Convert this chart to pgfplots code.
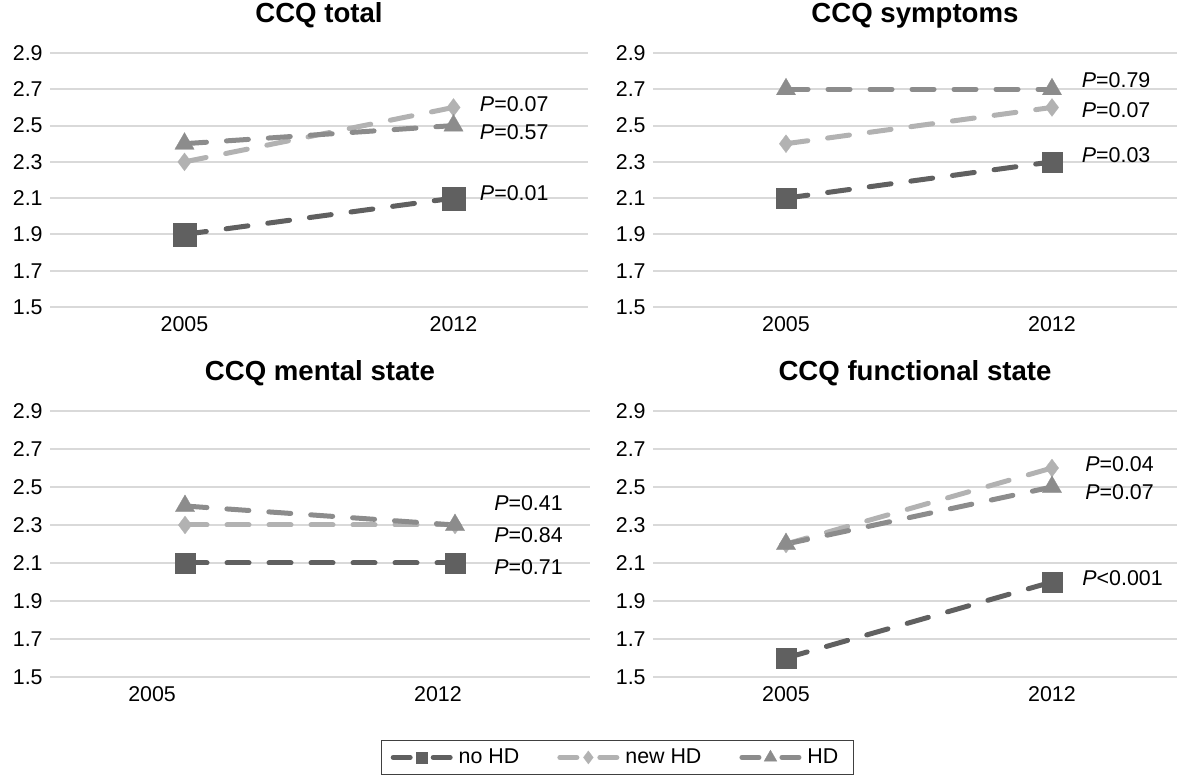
\documentclass[border=0pt]{standalone}
\usepackage{fontspec}
\setmainfont{Liberation Sans}
\usepackage{pgfplots}
\pgfplotsset{compat=1.18}
\definecolor{cnohd}{HTML}{606060}
\definecolor{cnew}{HTML}{B2B2B2}
\definecolor{chd}{HTML}{8C8C8C}
\definecolor{cgrid}{HTML}{D9D9D9}
\tikzset{legms/.initial=2.8pt}
\newcommand{\tfont}{\fontsize{10.7}{12.8}\selectfont}
\pgfplotsset{
  panel/.style={
    scale only axis,
    xmin=-0.5, xmax=1.5,
    ymin=1.5, ymax=2.9,
    enlargelimits=false,
    ytick={1.5,1.7,1.9,2.1,2.3,2.5,2.7,2.9},
    xtick={0,1}, xticklabels={2005,2012},
    ymajorgrids, grid style={cgrid, line width=1pt},
    axis line style={draw=none},
    major tick length=0pt,
    /pgf/number format/assume math mode=true,
    tick label style={font=\tfont},
    yticklabel style={anchor=east, inner sep=0pt, xshift=-3.5pt,
      /pgf/number format/fixed, /pgf/number format/precision=1,
      /pgf/number format/fixed zerofill},
    xticklabel style={anchor=north, inner sep=0pt, yshift=-4.5pt},
    title style={at={(0.5,1)}, anchor=base, yshift=9pt, inner sep=0pt,
      font=\bfseries\fontsize{13.8}{16}\selectfont},
    clip=false,
    legend image code/.code={
      \draw[##1, solid, mark=none, line cap=round] (1.25pt,0pt) -- (9.75pt,0pt);
      \draw[##1, solid, mark=none, line cap=round] (21.25pt,0pt) -- (29.75pt,0pt);
      \begin{scope}[##1]
        \draw[##1, only marks, mark size=\pgfkeysvalueof{/tikz/legms}] plot coordinates {(15.5pt,0pt)};
      \end{scope}
    },
  },
  serie/.style={line width=2.5pt, dash pattern=on 11pt off 10pt, line cap=round},
  nohd/.style={serie, color=cnohd, mark=square*, mark size=5pt,
    mark options={solid, line width=0.1pt, fill=cnohd}, legms=2.75pt},
  newhd/.style={serie, color=cnew, mark=diamond*, mark size=4.5pt,
    mark options={solid, line width=0.1pt, fill=cnew}, legms=3.3pt},
  hd/.style={serie, color=chd, mark=triangle*, mark size=5.6pt,
    mark options={solid, line width=0.1pt, fill=chd}, legms=3.7pt},
}
\tikzset{plab/.style={anchor=west, inner sep=0pt, font=\tfont}}
\begin{document}
\begin{tikzpicture}
\useasboundingbox (0,0) rectangle (588.5pt,388pt);
% CCQ total
\begin{axis}[panel, at={(25pt,234.5pt)}, anchor=south west,
  width=269pt, height=127pt, title={CCQ total}]
\addplot[nohd, mark size=5.75pt] coordinates {(0,1.9) (1,2.1)};
\addplot[newhd] coordinates {(0,2.3) (1,2.6)};
\addplot[hd] coordinates {(0,2.4) (1,2.5)};
\node[plab] at (axis cs:1.097,2.616) {\textit{P}=0.07};
\node[plab] at (axis cs:1.097,2.464) {\textit{P}=0.57};
\node[plab] at (axis cs:1.097,2.128) {\textit{P}=0.01};
\end{axis}
% CCQ symptoms
\begin{axis}[panel, at={(326.5pt,234.5pt)}, anchor=south west,
  width=262pt, height=127pt, xmax=1.47, title={CCQ symptoms}]
\addplot[nohd] coordinates {(0,2.1) (1,2.3)};
\addplot[newhd] coordinates {(0,2.4) (1,2.6)};
\addplot[hd] coordinates {(0,2.7) (1,2.7)};
\node[plab] at (axis cs:1.111,2.751) {\textit{P}=0.79};
\node[plab] at (axis cs:1.111,2.586) {\textit{P}=0.07};
\node[plab] at (axis cs:1.111,2.338) {\textit{P}=0.03};
\end{axis}
% CCQ mental state
\begin{axis}[panel, at={(25pt,49.5pt)}, anchor=south west,
  width=270pt, height=133pt, title={CCQ mental state},
  xtick={-0.122,0.937},
  legend columns=3,
  legend style={at={(1.051,-0.2368)}, anchor=north, draw=black!75, line width=0.6pt,
    font=\tfont, inner xsep=4.5pt, inner ysep=3pt,
    nodes={inner xsep=3pt, inner ysep=1pt},
    /tikz/every even column/.append style={column sep=16pt}},
  legend cell align=left]
\addplot[nohd] coordinates {(0,2.1) (1,2.1)};
\addplot[newhd] coordinates {(0,2.3) (1,2.3)};
\addplot[hd] coordinates {(0,2.4) (1,2.3)};
\legend{no HD, new HD, HD}
\node[plab] at (axis cs:1.144,2.413) {\textit{P}=0.41};
\node[plab] at (axis cs:1.144,2.247) {\textit{P}=0.84};
\node[plab] at (axis cs:1.144,2.076) {\textit{P}=0.71};
\end{axis}
% CCQ functional state
\begin{axis}[panel, at={(326.5pt,49.5pt)}, anchor=south west,
  width=262pt, height=133pt, xmax=1.47, title={CCQ functional state}]
\addplot[nohd] coordinates {(0,1.6) (1,2.0)};
\addplot[newhd] coordinates {(0,2.2) (1,2.6)};
\addplot[hd] coordinates {(0,2.2) (1,2.5)};
\node[plab] at (axis cs:1.124,2.621) {\textit{P}=0.04};
\node[plab] at (axis cs:1.124,2.471) {\textit{P}=0.07};
\node[plab] at (axis cs:1.113,2.018) {\textit{P}<0.001};
\end{axis}
\end{tikzpicture}
\end{document}
